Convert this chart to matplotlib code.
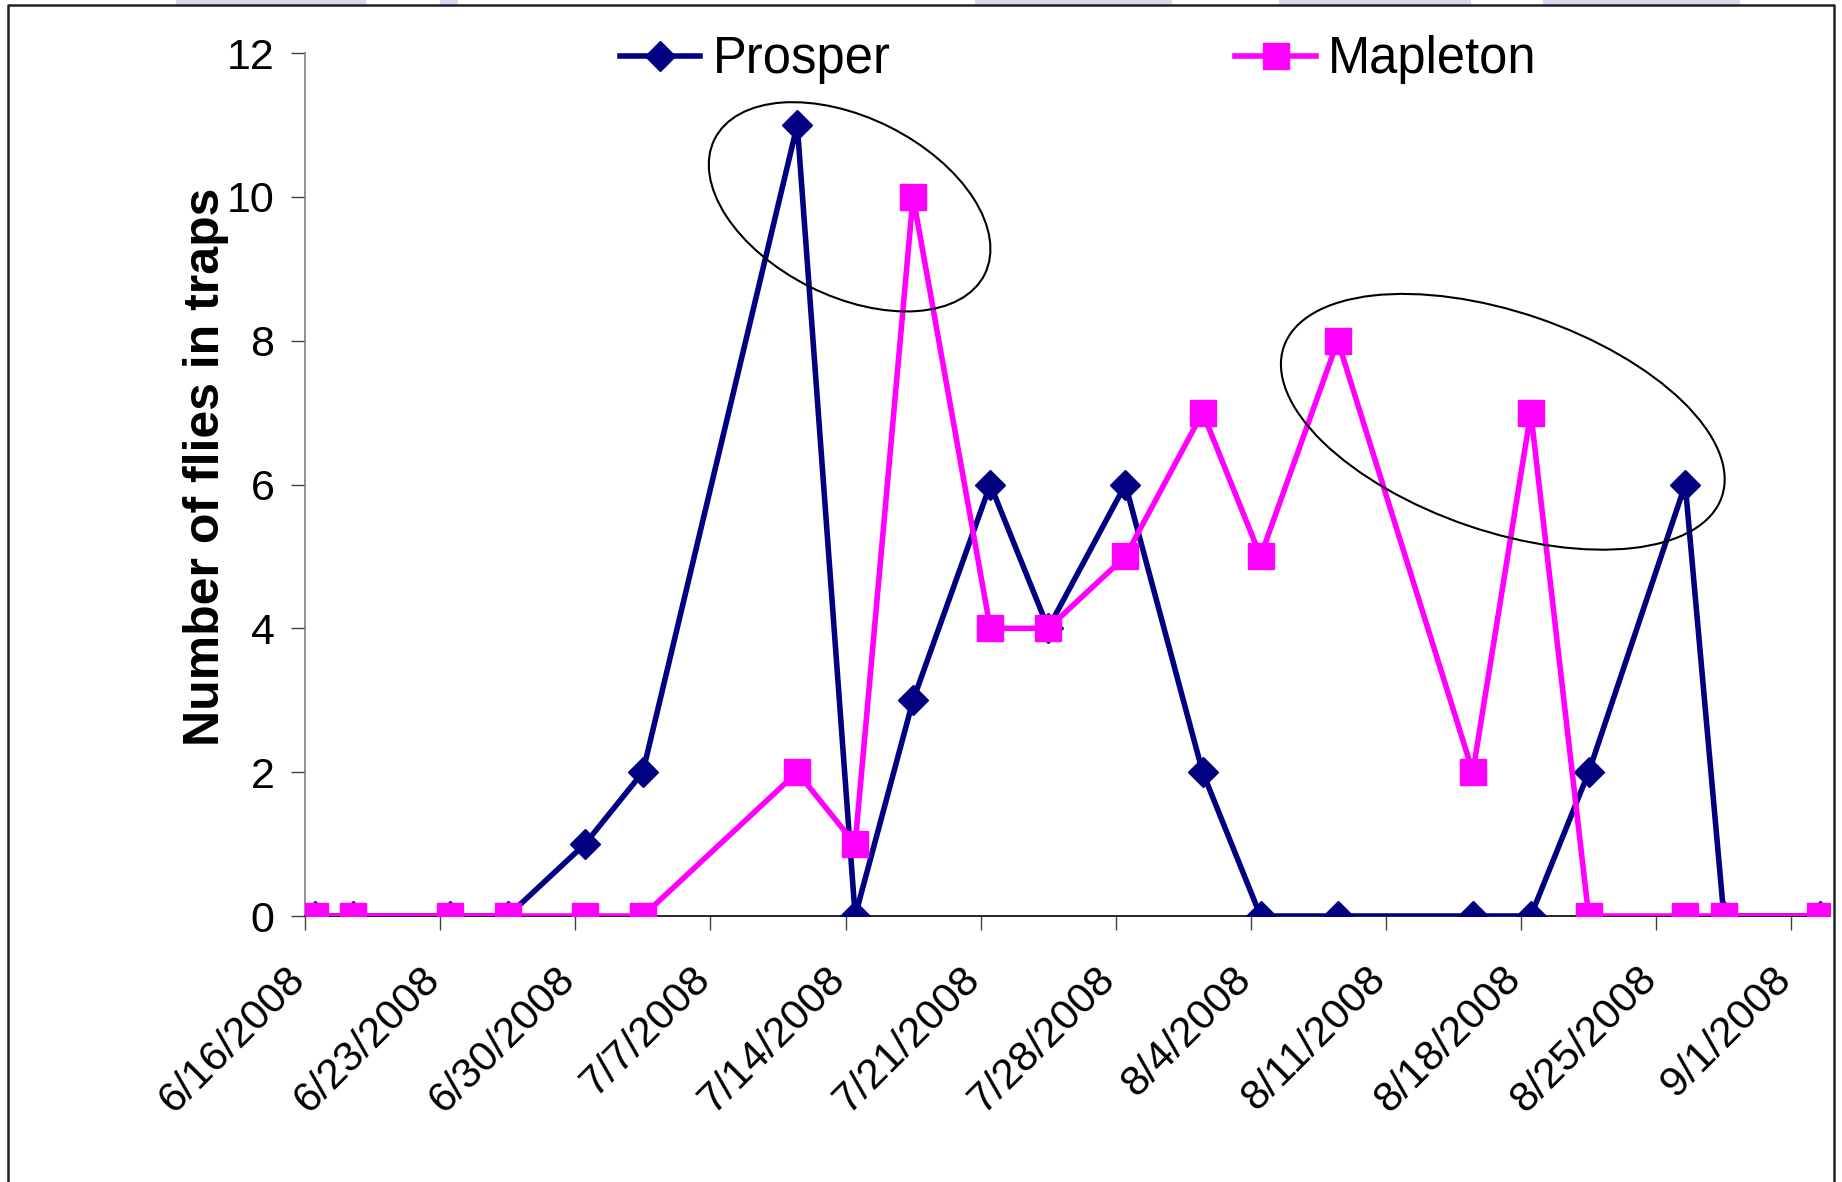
import matplotlib
matplotlib.use('Agg')
import matplotlib.pyplot as plt
import matplotlib.transforms as mtransforms
from matplotlib.patches import Ellipse, Rectangle
from matplotlib.lines import Line2D
import pandas as pd

# trap counts per sampling date
dates = ['2008-06-16', '2008-06-18', '2008-06-23', '2008-06-26', '2008-06-30',
         '2008-07-03', '2008-07-11', '2008-07-14', '2008-07-17', '2008-07-21',
         '2008-07-24', '2008-07-28', '2008-08-01', '2008-08-04', '2008-08-08',
         '2008-08-15', '2008-08-18', '2008-08-21', '2008-08-26', '2008-08-28',
         '2008-09-02']
prosper = [0, 0, 0, 0, 1, 2, 11, 0, 3, 6, 4, 6, 2, 0, 0, 0, 0, 2, 6, 0, 0]
mapleton = [0, 0, 0, 0, 0, 0, 2, 1, 10, 4, 4, 5, 7, 5, 8, 2, 7, 0, 0, 0, 0]
tick_dates = pd.date_range('2008-06-16', '2008-09-01', freq='7D')
tick_labels = [f'{d.month}/{d.day}/{d.year}' for d in tick_dates]
y_ticks = [0, 2, 4, 6, 8, 10, 12]

plt.rcParams['font.family'] = ['Liberation Sans', 'DejaVu Sans']

fig = plt.figure(figsize=(18.42, 11.82), dpi=100)
ax = fig.add_axes([305 / 1842, 1 - 916 / 1182, 1525 / 1842, 863 / 1182])

# excel date axis: points sit in the middle of their day
x = pd.to_datetime(dates) + pd.Timedelta(hours=12)

ax.plot(x, prosper, color='#000080', lw=4, marker='D', markersize=15.5,
        label='Prosper', zorder=3)
ax.plot(x, mapleton, color='#FF00FF', lw=4, marker='s', markersize=18.5,
        label='Mapleton', zorder=4)

ax.set_xlim(pd.Timestamp('2008-06-16'), pd.Timestamp('2008-09-03'))
ax.set_ylim(0, 12)
ax.set_yticks(y_ticks)
ax.set_yticklabels([str(v) for v in y_ticks], fontsize=31)
ax.set_xticks(tick_dates)
ax.set_xticklabels(tick_labels, fontsize=30.5, rotation=45, ha='right')

ax.tick_params(axis='y', direction='out', length=10, width=1, pad=12, colors='#404040', labelcolor='black')
ax.tick_params(axis='x', direction='out', length=10, width=1, pad=21, colors='#404040', labelcolor='black')
# nudge the date labels so their top right corner sits at the tick
shift = mtransforms.ScaledTranslation(0.08, 0, fig.dpi_scale_trans)
for lbl in ax.get_xticklabels():
    lbl.set_transform(lbl.get_transform() + shift)

ax.spines['top'].set_visible(False)
ax.spines['right'].set_visible(False)
ax.spines['left'].set_color('#808080')
ax.spines['bottom'].set_color('black')
ax.spines['left'].set_linewidth(1.2)
ax.spines['bottom'].set_linewidth(1.2)

ax.set_ylabel('Number of flies in traps', fontsize=36, fontweight='bold')
ax.yaxis.set_label_coords(-0.05, 0.52)

ax.legend(loc='center left', bbox_to_anchor=(620 / 1842, 1 - 60 / 1182),
          bbox_transform=fig.transFigure, ncol=2, frameon=False, fontsize=36.5,
          handlelength=1.58, handletextpad=0.25, columnspacing=6.8,
          borderpad=0, borderaxespad=0)

# hand drawn ellipses (in inches on the page)
for cx, cy, w, h, ang in [(8.496, 9.752, 3.02, 1.786, -26.6),
                          (15.028, 7.602, 4.63, 2.19, -18.9)]:
    fig.patches.append(Ellipse((cx, cy), w, h, angle=ang, fill=False,
                               edgecolor='black', lw=1.5,
                               transform=fig.dpi_scale_trans, figure=fig))

# slide background bits and frame
for x0, x1 in [(176, 366), (440, 458), (975, 1172), (1279, 1471), (1543, 1740)]:
    fig.patches.append(Rectangle((x0 / 1842, 1 - 5 / 1182), (x1 - x0) / 1842, 5 / 1182,
                                 transform=fig.transFigure, color='#d8d8ee',
                                 lw=0, figure=fig))
fig.lines.append(Line2D([8 / 1842, 8 / 1842, 1834 / 1842, 1834 / 1842],
                        [0, 1 - 5 / 1182, 1 - 5 / 1182, 0],
                        transform=fig.transFigure, color='#222222', lw=1.8))

fig.savefig('out.png', dpi=100)
